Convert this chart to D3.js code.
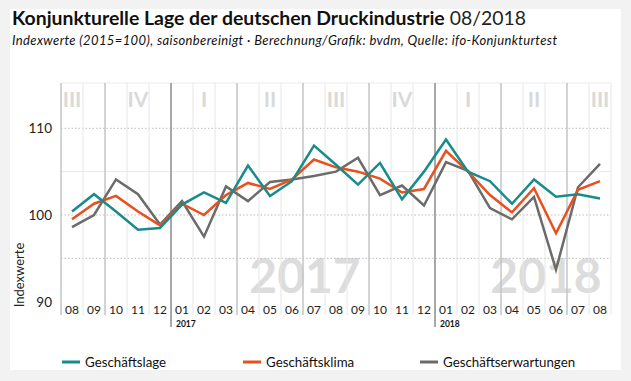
<!DOCTYPE html>
<html>
<head>
<meta charset="utf-8">
<script src="https://cdn.jsdelivr.net/npm/d3@7/dist/d3.min.js"></script>
<style>
html,body{margin:0;padding:0;background:#f2f2f2;}
svg{display:block;}
text{font-family:Lato,"Open Sans",sans-serif;}
</style>
</head>
<body>
<svg id="chart" width="631" height="381"></svg>
<script>
const months = ["08","09","10","11","12","01","02","03","04","05","06","07","08","09","10","11","12","01","02","03","04","05","06","07","08"];
const lage = [100.4,102.4,100.4,98.3,98.5,101.2,102.6,101.4,105.7,102.2,103.9,108.0,105.8,103.5,106.0,101.8,105.0,108.7,105.0,103.9,101.3,104.1,102.1,102.4,101.9];
const klima = [99.5,101.3,102.2,100.4,98.8,101.3,100.0,102.3,103.7,103.0,104.1,106.4,105.5,105.0,104.2,102.6,103.0,107.4,105.0,102.3,100.3,103.1,97.9,102.9,103.9];
const erwartungen = [98.6,100.0,104.1,102.4,98.9,101.6,97.5,103.3,101.6,103.8,104.1,104.5,105.0,106.6,102.3,103.4,101.1,106.1,105.1,100.8,99.5,102.1,93.7,103.2,105.9];
const yTicks = [90,100,110];
const quarterLabels = [{m:0,t:"III"},{m:3,t:"IV"},{m:6,t:"I"},{m:9,t:"II"},{m:12,t:"III"},{m:15,t:"IV"},{m:18,t:"I"},{m:21,t:"II"},{m:24,t:"III"}];
const yearMarks = [{m:5,t:"2017"},{m:17,t:"2018"}];
const seriesNames = ["Geschäftslage","Geschäftsklima","Geschäftserwartungen"];
const colors = ["#178c8b","#e8501e","#6b6b6b"];

const svg = d3.select("#chart");
svg.append("rect").attr("x",10).attr("y",9).attr("width",611).attr("height",361).attr("fill","#fff");

// title
const t = svg.append("text").attr("x",12).attr("y",25).attr("fill","#111");
t.append("tspan").attr("font-weight","bold").attr("font-size",19.4).text("Konjunkturelle Lage der deutschen Druckindustrie");
t.append("tspan").attr("font-weight","normal").attr("font-size",19.4).attr("fill","#222").text(" 08/2018");
svg.append("text").attr("x",12).attr("y",45).attr("font-style","italic").attr("font-size",13).attr("fill","#111")
  .attr("textLength",545).attr("lengthAdjust","spacing")
  .text("Indexwerte (2015=100), saisonbereinigt · Berechnung/Grafik: bvdm, Quelle: ifo-Konjunkturtest");

const x = d3.scaleBand().domain(d3.range(months.length)).range([61,611]).padding(0);
const y = d3.scaleLinear().domain([90,110]).range([301.7,128.3]);
const plotTop = 83, plotBottom = 315;

// watermarks
const wm = svg.append("g").attr("font-weight","bold").attr("font-size",48).attr("fill","#dcdcdc").attr("text-anchor","middle");
wm.append("text").attr("x",305).attr("y",293).text("2017");
wm.append("text").attr("x",546).attr("y",293).text("2018");

// horizontal grid
svg.append("line").attr("x1",61).attr("x2",611).attr("y1",plotTop).attr("y2",plotTop).attr("stroke","#ececec");
[95,100,105,110].forEach(v=>{
  svg.append("line").attr("x1",61).attr("x2",611).attr("y1",y(v)).attr("y2",y(v))
    .attr("stroke", v===105 ? "#ebebeb" : "#bdbdbd")
    .attr("stroke-dasharray", v===105 ? null : "1.5,2");
});

// vertical lines
d3.range(months.length+1).forEach(k=>{
  const xx = k<months.length ? x(k) : x(months.length-1)+x.bandwidth();
  let stroke="#e6e6e6", w=1, y2=plotBottom;
  const isYear = yearMarks.some(d=>d.m===k);
  const isQuarter = [0,2,8,11,14,20,23].includes(k);
  if(isYear){stroke="#a8a8a8"; w=2; y2=327;}
  else if(isQuarter){stroke="#c4c4c4"; w=1.5;}
  svg.append("line").attr("x1",xx).attr("x2",xx).attr("y1",plotTop).attr("y2",y2).attr("stroke",stroke).attr("stroke-width",w);
});

// quarter labels
svg.append("g").attr("font-weight","bold").attr("font-size",21).attr("fill","#d9d9d9").attr("text-anchor","middle")
  .selectAll("text").data(quarterLabels).join("text")
  .attr("x",d=>x(d.m)+x.bandwidth()/2).attr("y",107).text(d=>d.t);

// x axis labels
const xAxis = d3.axisBottom(x).tickSize(0).tickFormat(i=>months[i]);
const gx = svg.append("g").attr("transform",`translate(0,${304})`).call(xAxis);
gx.select(".domain").remove();
gx.selectAll("text").attr("font-size",12).attr("fill","#222").attr("font-family","Lato,sans-serif").attr("dy","0.6em");

// year small labels
svg.append("g").selectAll("text").data(yearMarks).join("text")
  .attr("x",d=>x(d.m)+5).attr("y",327).attr("font-size",8.5).attr("font-weight","bold").attr("fill","#111").text(d=>d.t);

// y axis
const yAxis = d3.axisLeft(y).tickValues(yTicks).tickSize(0).tickFormat(d3.format("d"));
const gy = svg.append("g").attr("transform","translate(55,0)").call(yAxis);
gy.select(".domain").remove();
gy.selectAll("text").attr("font-size",13.5).attr("fill","#222").attr("font-family","Lato,sans-serif");
svg.append("text").attr("transform","translate(24,275) rotate(-90)").attr("text-anchor","middle")
  .attr("font-size",13).attr("fill","#222").text("Indexwerte");

// lines
const line = d3.line().x((d,i)=>x(i)+x.bandwidth()/2).y(d=>y(d));
[erwartungen, klima, lage].forEach((s,j)=>{
  const ci = [2,1,0][j];
  svg.append("path").datum(s).attr("d",line).attr("fill","none").attr("stroke",colors[ci])
    .attr("stroke-width",2.5).attr("stroke-linejoin","miter");
});

// legend
const legX = [62,243,420];
seriesNames.forEach((n,i)=>{
  svg.append("line").attr("x1",legX[i]).attr("x2",legX[i]+18).attr("y1",362).attr("y2",362).attr("stroke",colors[i]).attr("stroke-width",3);
  svg.append("text").attr("x",legX[i]+23).attr("y",366.5).attr("font-size",13.3).attr("fill","#111").text(n);
});
</script>
</body>
</html>
